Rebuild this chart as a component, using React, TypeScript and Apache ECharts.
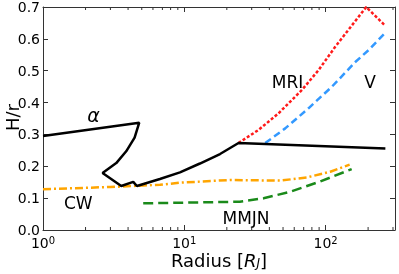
import React, { useEffect, useRef } from "react";
import * as echarts from "echarts";

// alpha (black solid)
const alphaR = [1, 4.8, 4.45, 3.88, 3.3, 2.64, 3.58, 4.35, 4.62, 6.72, 9.32, 12.9, 17.9, 24.2, 265];
const alphaH = [0.295, 0.337, 0.29, 0.247, 0.21, 0.179, 0.138, 0.151, 0.138, 0.16, 0.181, 0.2087, 0.2385, 0.273, 0.256];
// MRI (red dotted)
const mriR = [24.2, 33.5, 46.4, 68.0, 89.2, 117, 154, 194, 262];
const mriH = [0.273, 0.314, 0.366, 0.4395, 0.502, 0.575, 0.643, 0.70, 0.643];
// V (blue dashed)
const vR = [37.4, 51.8, 75.7, 111, 163, 202, 262];
const vH = [0.273, 0.319, 0.382, 0.45, 0.528, 0.565, 0.617];
// CW (orange dash-dot)
const cwR = [1, 3, 6.73, 9.33, 21.1, 47.7, 73.9, 108, 148];
const cwH = [0.128, 0.135, 0.142, 0.1485, 0.157, 0.155, 0.165, 0.183, 0.205];
// MMJN (green dashed)
const mmR = [5.12, 9.33, 24.7, 36.4, 56.1, 90.7, 153];
const mmH = [0.0838, 0.0857, 0.0888, 0.0995, 0.12, 0.1516, 0.191];

const minorTicks = [2, 3, 4, 5, 6, 7, 8, 9, 20, 30, 40, 50, 60, 70, 80, 90, 200, 300];
const yTicks = [0, 0.1, 0.2, 0.3, 0.4, 0.5, 0.6, 0.7];

const zip = (a: number[], b: number[]) => a.map((v, i) => [v, b[i]]);

const FONT = "DejaVu Sans";
const AX = "#333";

export default function App() {
  const ref = useRef<HTMLDivElement>(null);
  useEffect(() => {
    if (!ref.current) return;
    const chart = echarts.init(ref.current, undefined, { renderer: "svg" });
    const lineSeries = (data: number[][], color: string, type: any, width = 2.5) => ({
      type: "line",
      data,
      showSymbol: false,
      symbol: "none",
      lineStyle: { color, width, type },
      xAxisIndex: 0,
      yAxisIndex: 0,
      z: 3,
    });
    chart.setOption({
      animation: false,
      textStyle: { fontFamily: FONT },
      grid: { left: 43, right: 4, top: 7, bottom: 44, containLabel: false, outerBoundsMode: "none" },
      xAxis: [
        {
          type: "log",
          logBase: 10,
          min: 1,
          max: 310,
          position: "bottom",
          axisLine: { show: true, onZero: false, lineStyle: { color: AX, width: 1 } },
          axisTick: { show: true, inside: true, length: 5, lineStyle: { color: AX } },
          splitLine: { show: false },
          axisLabel: {
            margin: 5,
            color: "#000",
            showMaxLabel: false,
            formatter: (v: number) => {
              const l = Math.log10(v);
              const r = Math.round(l);
              if (Math.abs(l - r) > 1e-6) return "";
              return `{b|10}{s|${r}}`;
            },
            rich: {
              b: { fontSize: 14, lineHeight: 15, verticalAlign: "bottom", fontFamily: FONT, color: "#000" },
              s: { fontSize: 10, lineHeight: 8, verticalAlign: "top", fontFamily: FONT, color: "#000" },
            },
          },
        },
        {
          type: "log",
          logBase: 10,
          min: 1,
          max: 310,
          position: "top",
          axisLine: { show: true, onZero: false, lineStyle: { color: AX, width: 1 } },
          axisTick: { show: true, inside: true, length: 5, lineStyle: { color: AX } },
          axisLabel: { show: false },
          splitLine: { show: false },
        },
      ],
      yAxis: [
        {
          type: "value",
          min: yTicks[0],
          max: yTicks[yTicks.length - 1],
          interval: 0.1,
          position: "left",
          axisLine: { show: true, onZero: false, lineStyle: { color: AX, width: 1 } },
          axisTick: { show: true, inside: true, length: 5, lineStyle: { color: AX } },
          splitLine: { show: false },
          axisLabel: {
            margin: 3,
            fontSize: 14,
            lineHeight: 10,
            color: "#000",
            fontFamily: FONT,
            formatter: (v: number) => v.toFixed(1),
          },
        },
        {
          type: "value",
          min: yTicks[0],
          max: yTicks[yTicks.length - 1],
          interval: 0.1,
          position: "right",
          axisLine: { show: true, onZero: false, lineStyle: { color: AX, width: 1 } },
          axisTick: { show: true, inside: true, length: 5, lineStyle: { color: AX } },
          axisLabel: { show: false },
          splitLine: { show: false },
        },
      ],
      series: [
        {
          type: "custom",
          xAxisIndex: 0,
          yAxisIndex: 0,
          silent: true,
          data: minorTicks.map((v) => [v, 0]),
          encode: { x: 0, y: 1 },
          renderItem: (_p: any, api: any) => {
            const x = api.value(0);
            const b = api.coord([x, yTicks[0]]);
            const t = api.coord([x, yTicks[yTicks.length - 1]]);
            return {
              type: "group",
              children: [
                { type: "line", shape: { x1: b[0], y1: b[1], x2: b[0], y2: b[1] - 3 }, style: { stroke: AX, lineWidth: 1 } },
                { type: "line", shape: { x1: t[0], y1: t[1], x2: t[0], y2: t[1] + 3 }, style: { stroke: AX, lineWidth: 1 } },
              ],
            };
          },
        },
        lineSeries(zip(cwR, cwH), "#ffa500", [8, 3, 2, 3]),
        lineSeries(zip(mmR, mmH), "#1a8a1a", [10, 5]),
        lineSeries(zip(mriR, mriH), "#ff1a1a", [3, 2]),
        lineSeries(zip(vR, vH), "#3399ff", [7, 4]),
        lineSeries(zip(alphaR, alphaH), "#000000", "solid"),
      ],
      graphic: [
        {
          type: "text",
          x: 12.5,
          y: 117.5,
          rotation: Math.PI / 2,
          style: { text: "H/r", font: `18px "${FONT}"`, fill: "#000", align: "center", verticalAlign: "middle" },
        },
        {
          type: "text",
          x: 219,
          y: 260,
          style: {
            text: "Radius [{i|R}{j|J}]",
            font: `18px "${FONT}"`,
            fill: "#000",
            align: "center",
            verticalAlign: "middle",
            lineHeight: 18,
            rich: {
              i: { fontSize: 18, lineHeight: 18, fontStyle: "italic", fontFamily: FONT, fill: "#000" },
              j: { fontSize: 12, lineHeight: 8, fontStyle: "italic", verticalAlign: "bottom", fontFamily: FONT, fill: "#000" },
            },
          },
        },
        { type: "text", x: 93.5, y: 115, style: { text: "α", font: `italic 19px "${FONT}"`, fill: "#000", align: "center", verticalAlign: "middle" } },
        { type: "text", x: 78.3, y: 202.5, style: { text: "CW", font: `17px "${FONT}"`, fill: "#000", align: "center", verticalAlign: "middle" } },
        { type: "text", x: 246, y: 217.5, style: { text: "MMJN", font: `17px "${FONT}"`, fill: "#000", align: "center", verticalAlign: "middle" } },
        { type: "text", x: 287.5, y: 82, style: { text: "MRI", font: `17px "${FONT}"`, fill: "#000", align: "center", verticalAlign: "middle" } },
        { type: "text", x: 370, y: 82, style: { text: "V", font: `17px "${FONT}"`, fill: "#000", align: "center", verticalAlign: "middle" } },
      ],
    });
    return () => chart.dispose();
  }, []);
  return <div ref={ref} style={{ position: "fixed", left: 0, top: 0, width: 399, height: 274 }} />;
}
